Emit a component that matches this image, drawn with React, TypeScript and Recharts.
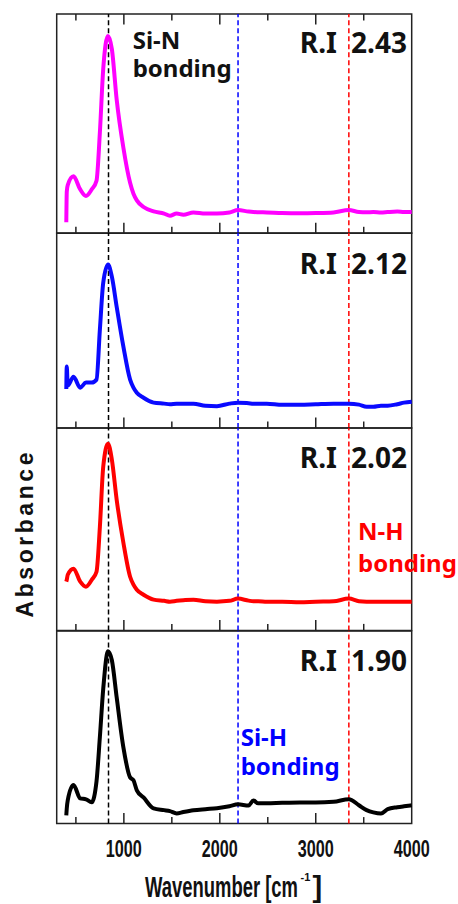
import { LineChart, Line, XAxis, YAxis, ReferenceLine, ReferenceArea } from 'recharts'

// FTIR spectra, absorbance normalised per panel (0..1)
const wavenumbers = [
  400, 405, 415, 475, 545, 605, 665, 715, 750, 785,
  835, 875, 925, 995, 1065, 1100, 1135, 1205, 1310, 1420,
  1480, 1550, 1620, 1725, 1850, 1970, 2100, 2190, 2300, 2350,
  2400, 2490, 2650, 2835, 3000, 3185, 3345, 3450, 3530, 3600,
  3680, 3750, 3850, 3920, 4000,
]

const ri243 = [
  0.05, 0.19, 0.22, 0.26, 0.2, 0.17, 0.2, 0.24, 0.46, 0.75,
  0.9, 0.84, 0.61, 0.39, 0.23, 0.18, 0.15, 0.12, 0.1, 0.09,
  0.08, 0.09, 0.085, 0.095, 0.09, 0.09, 0.095, 0.106, 0.099, 0.097,
  0.096, 0.095, 0.092, 0.091, 0.092, 0.095, 0.106, 0.097, 0.096, 0.097,
  0.095, 0.097, 0.099, 0.097, 0.097,
]

const ri212 = [
  0.2, 0.315, 0.217, 0.263, 0.207, 0.233, 0.233, 0.248, 0.504, 0.745,
  0.838, 0.776, 0.622, 0.417, 0.248, 0.207, 0.181, 0.155, 0.13, 0.125,
  0.122, 0.125, 0.125, 0.125, 0.114, 0.112, 0.125, 0.13, 0.127, 0.125,
  0.125, 0.125, 0.119, 0.119, 0.122, 0.125, 0.125, 0.12, 0.109, 0.109,
  0.114, 0.114, 0.122, 0.13, 0.135,
]

const ri202 = [
  0.241, 0.25, 0.275, 0.305, 0.241, 0.216, 0.25, 0.29, 0.512, 0.809,
  0.922, 0.843, 0.646, 0.433, 0.265, 0.226, 0.201, 0.176, 0.152, 0.146,
  0.142, 0.146, 0.149, 0.152, 0.144, 0.142, 0.146, 0.157, 0.147, 0.144,
  0.144, 0.142, 0.142, 0.139, 0.142, 0.144, 0.157, 0.144, 0.142, 0.142,
  0.142, 0.142, 0.142, 0.142, 0.142,
]

const ri190 = [
  0.043, 0.079, 0.121, 0.2, 0.131, 0.126, 0.111, 0.22, 0.45, 0.7,
  0.895, 0.848, 0.656, 0.396, 0.24, 0.225, 0.173, 0.136, 0.079, 0.07,
  0.065, 0.053, 0.06, 0.069, 0.075, 0.08, 0.09, 0.1, 0.094, 0.12,
  0.105, 0.105, 0.108, 0.11, 0.11, 0.113, 0.127, 0.095, 0.07, 0.058,
  0.052, 0.075, 0.085, 0.09, 0.095,
]

const xTicks = [500, 1000, 1500, 2000, 2500, 3000, 3500, 4000]
const bondLines = [
  { x: 840, color: '#000000' },   // Si-N
  { x: 2190, color: '#0000ff' },  // Si-H
  { x: 3345, color: '#ff0000' },  // N-H
]

const panels = [
  { series: ri243, color: '#ff00ff', ri: '2.43', top: 14, bottom: 233.3, labelY: 53.3 },
  { series: ri212, color: '#0a0aff', ri: '2.12', top: 233.3, bottom: 428.3, labelY: 274.3 },
  { series: ri202, color: '#ff0000', ri: '2.02', top: 428.3, bottom: 630.7, labelY: 468.3 },
  { series: ri190, color: '#000000', ri: '1.90', top: 630.7, bottom: 823.3, labelY: 670.7 },
]

const W = 458
const PLOT_L = 56.7
const PLOT_R = 411.7
const PAD = 10
const AXIS_FONT = "'Liberation Sans Narrow', 'Liberation Sans', Arial, sans-serif"
const NOTE_FONT = "'Noto Sans', 'Open Sans', sans-serif"

function InTick(props: any) {
  const { x, y, payload, dir, showLabel } = props
  const v = payload.value
  const major = v % 1000 === 0
  const len = major ? 10.5 : 6.5
  return (
    <g>
      {v < 4000 && (
        <line x1={x} x2={x} y1={y} y2={y + dir * len} stroke="#222" strokeWidth={1.5} />
      )}
      {showLabel && major && (
        <text
          x={x}
          y={y + 33.7}
          textAnchor="middle"
          fontFamily={AXIS_FONT}
          fontWeight="bold"
          fontSize={24}
          fill="#111"
          textLength={36}
          lengthAdjust="spacingAndGlyphs"
        >
          {v}
        </text>
      )}
    </g>
  )
}

function Panel({ idx }: { idx: number }) {
  const p = panels[idx]
  const first = idx === 0
  const last = idx === panels.length - 1
  const bottomPad = last ? 80 : PAD
  const h = p.bottom - p.top
  const data = wavenumbers.map((w, i) => ({ w, a: p.series[i] }))
  // axes are 1px tall (a 0px axis is not drawn), so take that from the margins
  return (
    <div style={{ position: 'absolute', left: 0, top: p.top - PAD }}>
      <LineChart
        width={W}
        height={h + PAD + bottomPad}
        data={data}
        margin={{
          top: first ? PAD - 1 : PAD,
          bottom: bottomPad - 1,
          left: PLOT_L,
          right: W - PLOT_R,
        }}
      >
        <XAxis
          dataKey="w"
          type="number"
          domain={[300, 4000]}
          ticks={xTicks}
          interval={0}
          height={1}
          axisLine={false}
          tickLine={false}
          tickSize={0}
          tickMargin={0}
          tick={(tp: any) => <InTick {...tp} dir={-1} showLabel={last} />}
        />
        {first && (
          <XAxis
            xAxisId="top"
            orientation="top"
            dataKey="w"
            type="number"
            domain={[300, 4000]}
            ticks={xTicks}
            interval={0}
            height={1}
            axisLine={false}
            tickLine={false}
            tickSize={0}
            tickMargin={0}
            tick={(tp: any) => <InTick {...tp} dir={1} showLabel={false} />}
          />
        )}
        <YAxis type="number" domain={[0, 1]} hide />
        <ReferenceArea x1={300} x2={4000} y1={0} y2={1} fill="none" stroke="#222" strokeWidth={1.5} />
        {bondLines.map((b) => (
          <ReferenceLine
            key={b.x}
            x={b.x}
            stroke={b.color}
            strokeWidth={1.5}
            strokeDasharray="5 3"
          />
        ))}
        <Line
          dataKey="a"
          type="monotone"
          stroke={p.color}
          strokeWidth={4}
          dot={false}
          isAnimationActive={false}
        />
      </LineChart>
    </div>
  )
}

export default function App() {
  return (
    <div style={{ position: 'absolute', left: 0, top: 0, width: W, height: 904, background: '#fff' }}>
      {panels.map((_, i) => (
        <Panel key={i} idx={i} />
      ))}
      <svg
        width={W}
        height={904}
        style={{ position: 'absolute', left: 0, top: 0, pointerEvents: 'none' }}
      >
        {panels.map((p) => (
          <g key={p.ri} fontFamily={NOTE_FONT} fontWeight="bold" fontSize={28} fill="#111">
            <text x={337} y={p.labelY} textAnchor="end">R.I</text>
            <text x={407} y={p.labelY} textAnchor="end">{p.ri}</text>
          </g>
        ))}
        <text fontFamily={NOTE_FONT} fontWeight="bold" fontSize={24} fill="#111">
          <tspan x={132.7} y={49.3}>Si-N</tspan>
          <tspan x={132.7} y={76.5}>bonding</tspan>
        </text>
        <text fontFamily={NOTE_FONT} fontWeight="bold" fontSize={24} fill="#ff0000">
          <tspan x={358} y={540}>N-H</tspan>
          <tspan x={358} y={571.7}>bonding</tspan>
        </text>
        <text fontFamily={NOTE_FONT} fontWeight="bold" fontSize={24} fill="#0000ff">
          <tspan x={240.7} y={746}>Si-H</tspan>
          <tspan x={240.7} y={775}>bonding</tspan>
        </text>
        <text
          transform="translate(33,535) rotate(-90)"
          textAnchor="middle"
          fontFamily="'Liberation Sans', Arial, sans-serif"
          fontWeight="bold"
          fontSize={23}
          fill="#111"
          textLength={165}
          lengthAdjust="spacing"
        >
          Absorbance
        </text>
        <g fontFamily={AXIS_FONT} fontWeight="bold" fill="#111">
          <text x={145} y={897} fontSize={29} textLength={153} lengthAdjust="spacingAndGlyphs">
            Wavenumber [cm
          </text>
          <text x={300.5} y={881} fontSize={11}>-1</text>
          <text x={312.5} y={897} fontSize={29}>]</text>
        </g>
      </svg>
    </div>
  )
}
